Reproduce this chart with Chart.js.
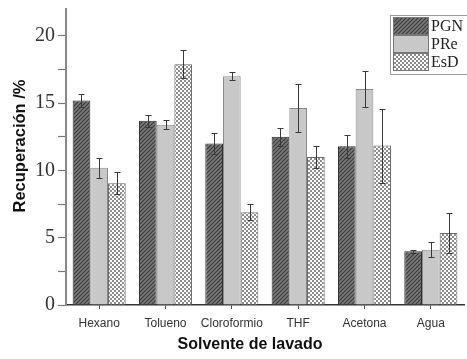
<!DOCTYPE html>
<html>
<head>
<meta charset="utf-8">
<script src="https://cdn.jsdelivr.net/npm/chart.js@4/dist/chart.umd.min.js"></script>
<style>
html,body{margin:0;padding:0;background:#fff;overflow:hidden;}
#c{display:block;}
</style>
</head>
<body>
<canvas id="c" width="467" height="359"></canvas>
<script>
const categories = ['Hexano', 'Tolueno', 'Cloroformio', 'THF', 'Acetona', 'Agua'];
const seriesNames = ['PGN', 'PRe', 'EsD'];
const pgn    = [15.2, 13.7, 12.0, 12.5, 11.8, 4.0];
const pgnErr = [0.5, 0.45, 0.75, 0.65, 0.85, 0.1];
const pre    = [10.2, 13.4, 17.0, 14.65, 16.05, 4.1];
const preErr = [0.75, 0.35, 0.3, 1.8, 1.35, 0.55];
const esd    = [9.05, 17.9, 6.9, 11.0, 11.85, 5.35];
const esdErr = [0.8, 1.05, 0.6, 0.85, 2.75, 1.5];
const yTicksMajor = [0, 5, 10, 15, 20];
const xTitle = 'Solvente de lavado';
const yTitle = 'Recuperación /%';

function makePattern(kind) {
  const t = document.createElement('canvas');
  const ctx = t.getContext('2d');
  if (kind === 'hatch') {
    t.width = 4; t.height = 4;
    ctx.fillStyle = '#7a7a7a'; ctx.fillRect(0, 0, 4, 4);
    ctx.strokeStyle = '#3c3c3c'; ctx.lineWidth = 1.2;
    ctx.beginPath();
    ctx.moveTo(0, 4); ctx.lineTo(4, 0);
    ctx.moveTo(-1, 1); ctx.lineTo(1, -1);
    ctx.moveTo(3, 5); ctx.lineTo(5, 3);
    ctx.stroke();
  } else {
    t.width = 4; t.height = 4;
    ctx.fillStyle = '#ffffff'; ctx.fillRect(0, 0, 4, 4);
    ctx.fillStyle = '#8e8e8e';
    ctx.fillRect(0, 0, 2, 2); ctx.fillRect(2, 2, 2, 2);
  }
  return ctx.createPattern(t, 'repeat');
}

const fills = [makePattern('hatch'), '#c8c8c8', makePattern('check')];
const borders = ['#2e2e2e', '#8a8a8a', '#6a6a6a'];
const errs = [pgnErr, preErr, esdErr];

const errorBars = {
  id: 'errorBars',
  afterDatasetsDraw(chart) {
    const ctx = chart.ctx, y = chart.scales.y;
    ctx.save();
    ctx.strokeStyle = '#3a3a3a';
    ctx.lineWidth = 1;
    chart.data.datasets.forEach((ds, di) => {
      const meta = chart.getDatasetMeta(di);
      meta.data.forEach((bar, i) => {
        const v = ds.data[i], e = errs[di][i];
        const yt = Math.round(y.getPixelForValue(v + e)) + 0.5;
        const yb = Math.round(y.getPixelForValue(v - e)) + 0.5;
        const x = Math.round(bar.x) + 0.5;
        ctx.beginPath();
        ctx.moveTo(x, yt); ctx.lineTo(x, yb);
        ctx.moveTo(x - 3, yt); ctx.lineTo(x + 3, yt);
        ctx.moveTo(x - 3, yb); ctx.lineTo(x + 3, yb);
        ctx.stroke();
      });
    });
    ctx.restore();
  }
};

const extras = {
  id: 'extras',
  afterDraw(chart) {
    const ctx = chart.ctx;
    ctx.save();
    ctx.fillStyle = '#111';
    ctx.textAlign = 'center';
    ctx.textBaseline = 'middle';
    ctx.font = 'bold 16px "Liberation Sans", Arial, sans-serif';
    ctx.fillText(xTitle, 250, 345);
    ctx.font = 'bold 16.5px "Liberation Sans", Arial, sans-serif';
    ctx.translate(20, 146);
    ctx.rotate(-Math.PI / 2);
    ctx.fillText(yTitle, 0, 0);
    ctx.restore();

    // legend
    ctx.save();
    ctx.fillStyle = '#fff';
    ctx.fillRect(390, 15, 80, 59);
    ctx.strokeStyle = '#9a9a9a';
    ctx.lineWidth = 1;
    ctx.strokeRect(390.5, 15.5, 80, 59);
    ctx.font = '16px "Liberation Serif", "Times New Roman", serif';
    ctx.textAlign = 'left';
    ctx.textBaseline = 'middle';
    chart.data.datasets.forEach((ds, i) => {
      const top = 17 + i * 18;
      ctx.fillStyle = ds.backgroundColor;
      ctx.fillRect(393, top, 36, 18);
      ctx.strokeStyle = '#777';
      ctx.strokeRect(393.5, top + 0.5, 35, 17);
      ctx.fillStyle = '#222';
      ctx.fillText(ds.label, 431, top + 10);
    });
    ctx.restore();
  }
};

new Chart(document.getElementById('c'), {
  type: 'bar',
  data: {
    labels: categories,
    datasets: [pgn, pre, esd].map((d, i) => ({
      label: seriesNames[i],
      data: d,
      backgroundColor: fills[i],
      borderColor: borders[i],
      borderWidth: 1,
      categoryPercentage: 0.8,
      barPercentage: 1.0
    }))
  },
  options: {
    responsive: false,
    animation: false,
    devicePixelRatio: 1,
    layout: { padding: { top: 9, right: 3, left: 0, bottom: 0 } },
    plugins: { legend: { display: false }, tooltip: { enabled: false } },
    scales: {
      x: {
        offset: true,
        grid: { display: true, drawOnChartArea: false, offset: false, tickLength: 4, color: '#555' },
        border: { color: '#333', width: 1.5 },
        ticks: {
          color: '#333',
          padding: 7,
          font: { family: '"Liberation Sans", Arial, sans-serif', size: 12 },
          maxRotation: 0, autoSkip: false
        },
        afterFit(s) { s.height = 54; s.paddingLeft = 0; s.paddingRight = 0; }
      },
      y: {
        min: 0, max: 22,
        grid: { display: true, drawOnChartArea: false, tickLength: 8, tickColor: '#777', tickWidth: 1.2 },
        border: { color: '#888', width: 2 },
        ticks: {
          stepSize: 2.5,
          includeBounds: false,
          autoSkip: false,
          padding: 3,
          color: '#333',
          font: { family: '"Liberation Serif", "Times New Roman", serif', size: 20 },
          callback: (v) => yTicksMajor.includes(v) ? String(v) : ''
        },
        afterFit(s) { s.width = 66; s.paddingTop = 0; s.paddingBottom = 0; }
      }
    }
  },
  plugins: [errorBars, extras]
});
</script>
</body>
</html>
